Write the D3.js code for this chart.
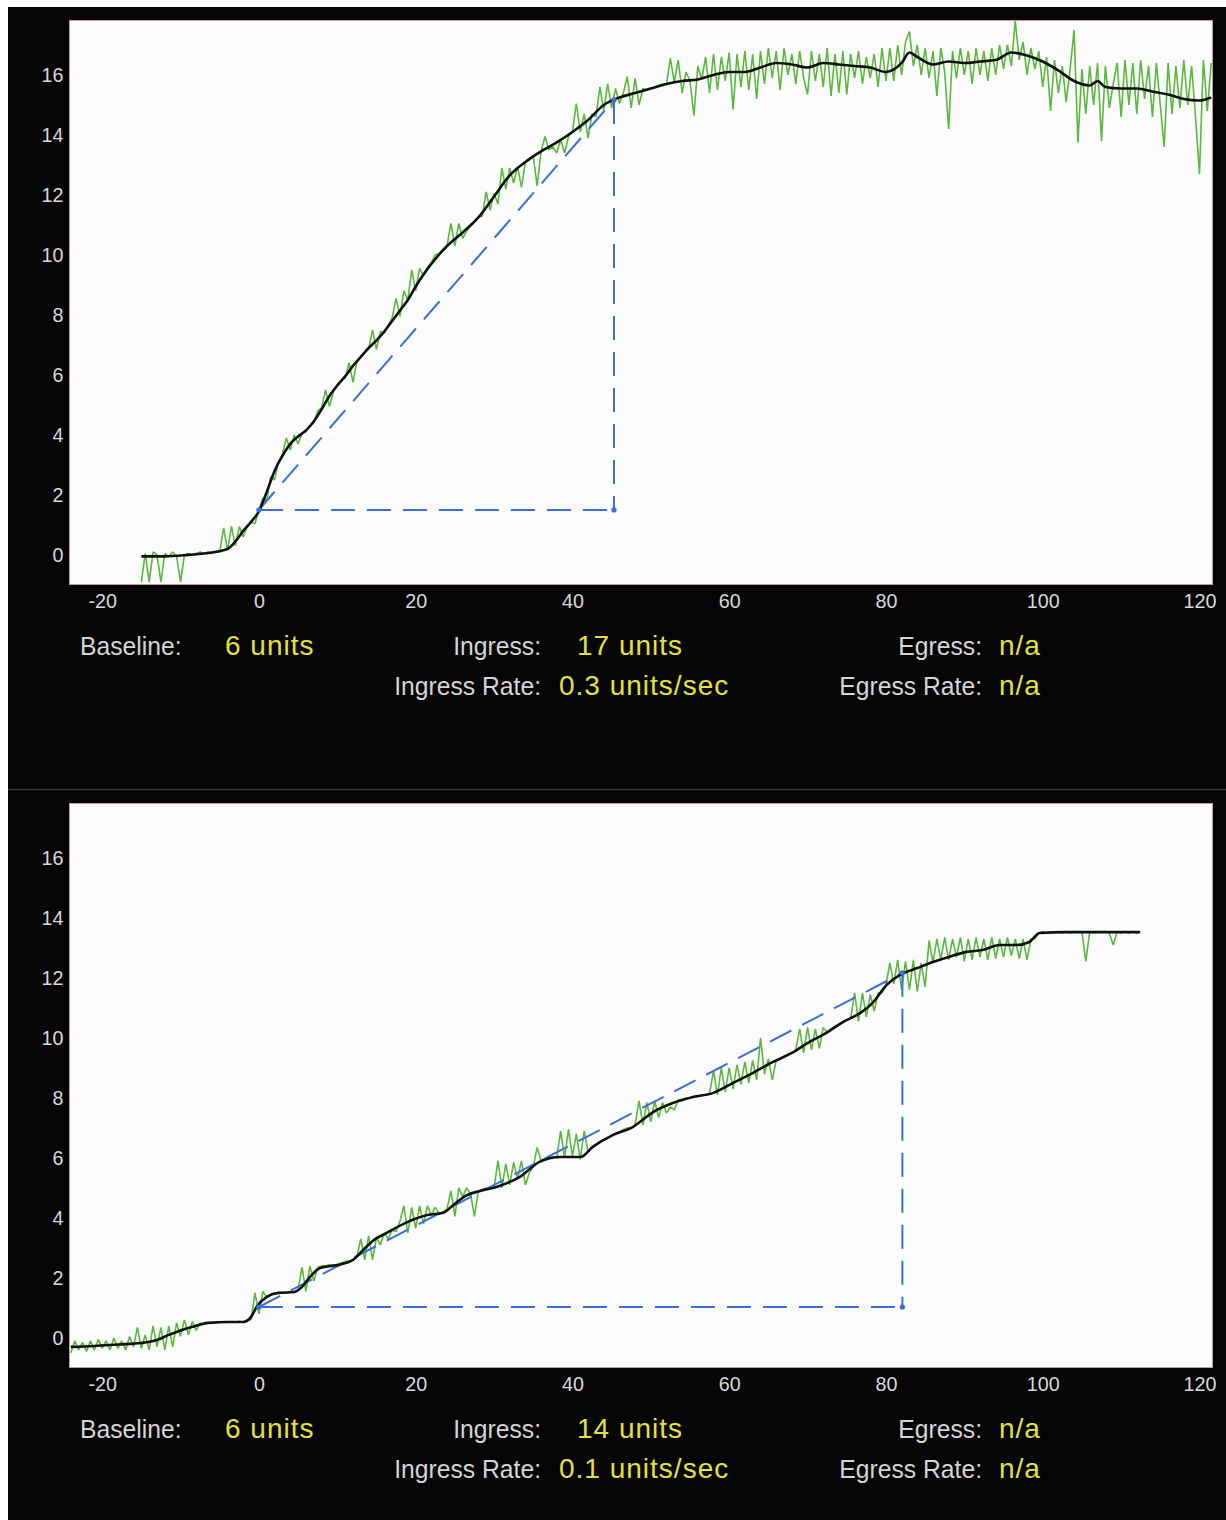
<!DOCTYPE html>
<html>
<head>
<meta charset="utf-8">
<script src="https://cdn.jsdelivr.net/npm/d3@7"></script>
<style>
  body { margin: 0; background: #fff; }
  svg { display: block; }
  text { font-family: "Liberation Sans", Arial, sans-serif; }
</style>
</head>
<body>
<svg id="chart" width="1226" height="1520"></svg>
<script>
// axis ticks
var xTicks = [-20, 0, 20, 40, 60, 80, 100, 120];
var yTicks = [0, 2, 4, 6, 8, 10, 12, 14, 16];
var sampleStep = 0.5;   // seconds between raw samples

var infoLabels = ["Baseline:", "Ingress:", "Ingress Rate:", "Egress:", "Egress Rate:"];
var infoValues1 = ["6 units", "17 units", "0.3 units/sec", "n/a", "n/a"];
var infoValues2 = ["6 units", "14 units", "0.1 units/sec", "n/a", "n/a"];

// ---- top panel ----
var rawStart1 = -15;
var raw1 = [
  -0.9,0.05,-0.9,0.1,0.0,-0.9,0.05,-0.05,0.1,-0.05,-0.9,0.0,0.05,0.0,0.05,0.1,0.05,0.1,0.05,0.12,
  0.1,0.9,0.15,0.95,0.3,0.95,0.6,0.95,1.1,1.05,1.5,1.9,1.8,2.6,2.5,3.1,3.35,3.9,3.5,4.0,
  3.7,4.05,4.1,4.3,4.4,4.8,4.9,5.5,4.95,5.45,5.65,5.8,5.9,6.4,5.75,6.45,6.6,6.75,6.85,7.5,
  6.85,7.45,7.4,7.65,7.9,8.55,7.95,8.8,8.5,9.5,8.8,9.55,9.3,9.6,9.75,10.0,10.05,10.15,10.3,11.05,
  10.3,11.05,10.55,10.8,10.95,11.1,11.25,11.3,12.1,11.5,12.05,11.7,12.9,12.2,12.9,12.4,12.95,12.25,13.1,13.15,
  13.3,12.3,13.45,13.95,13.5,13.6,13.4,13.85,13.4,13.95,14.1,15.05,14.1,14.7,13.9,14.7,14.6,15.6,14.8,15.7,
  14.9,15.55,15.05,15.4,15.95,14.9,15.9,15.0,15.55,15.5,15.55,15.6,15.65,15.7,15.7,16.55,15.75,16.5,15.4,16.1,
  15.8,14.65,16.3,15.85,16.6,15.4,16.7,15.5,16.6,15.8,16.75,14.85,16.7,15.6,16.8,15.5,16.7,15.2,16.8,15.7,
  16.9,15.9,16.8,15.5,16.9,16.0,16.7,15.7,16.8,15.9,15.35,16.8,15.8,16.7,15.6,16.9,15.3,16.7,15.4,16.8,
  15.35,16.7,15.9,16.8,15.7,16.6,15.9,16.7,15.6,16.9,15.8,16.9,15.8,17.0,16.0,17.1,17.45,16.3,17.0,16.0,
  16.9,15.9,16.8,15.3,16.9,16.1,14.2,16.8,15.9,16.9,16.0,16.8,15.7,16.9,16.0,16.8,15.8,16.9,16.0,17.0,
  16.2,17.0,16.3,17.8,16.5,17.1,16.0,16.9,16.2,16.8,15.6,16.6,14.8,16.5,15.4,16.3,15.1,16.2,17.5,13.75,
  16.2,14.7,16.3,15.0,16.4,13.8,16.3,14.9,15.7,16.4,14.6,16.5,15.0,16.4,14.7,16.5,15.2,16.3,14.6,16.4,
  15.0,13.6,16.4,14.7,16.3,14.9,16.5,15.0,16.3,14.6,12.7,16.5,14.8,16.4
];
var smoothT1 = [-15,-12,-9,-6,-4,-3,-2,-1,0,1,2,3,4,5,6,7,8,9,10,11,12,13,14,15,16,17,18,19,20,21,22,
  24,26,28,30,32,34,36,38,40,42,44,46,48,50,52,54,56,58,60,62,64,66,68,70,72,74,76,78,80,
  82,83,84,86,88,90,92,94,96,98,100,102,104,106,107,108,110,112,114,116,118,120,121.5];
var smoothV1 = [-0.05,-0.05,0.0,0.08,0.2,0.45,0.8,1.1,1.45,2.1,2.8,3.3,3.7,3.95,4.15,4.45,4.85,5.3,5.65,5.95,6.3,6.6,6.9,7.15,7.45,7.8,8.15,8.5,8.95,9.35,9.7,
  10.3,10.75,11.25,11.95,12.65,13.1,13.45,13.75,14.1,14.5,15.0,15.25,15.4,15.55,15.7,15.8,15.85,16.0,16.1,16.1,16.25,16.4,16.35,16.25,16.4,16.35,16.3,16.25,16.1,
  16.4,16.75,16.6,16.35,16.45,16.4,16.45,16.5,16.75,16.65,16.45,16.15,15.8,15.65,15.8,15.6,15.55,15.55,15.45,15.35,15.2,15.15,15.25];
var ramp1 = [0, 1.5, 45.3, 15.17];   // start t, start value, end t, end value

// ---- bottom panel ----
var rawStart2 = -24;
var raw2 = [
  -0.5,-0.1,-0.4,-0.15,-0.45,-0.1,-0.4,-0.05,-0.35,-0.1,-0.4,0.0,-0.35,-0.1,-0.4,0.05,-0.3,0.35,-0.35,0.1,
  -0.4,0.4,-0.3,0.35,-0.4,0.4,-0.3,0.5,0.05,0.6,0.1,0.55,0.25,0.5,0.45,0.5,0.5,0.5,0.52,0.53,
  0.53,0.52,0.53,0.55,0.53,0.6,0.6,1.5,0.8,1.55,1.35,1.45,1.5,1.5,1.52,1.5,1.55,1.53,1.6,2.35,
  1.55,2.4,1.9,2.35,2.4,2.4,2.45,2.42,2.45,2.5,2.55,2.55,2.6,2.7,3.3,2.6,3.4,2.6,3.35,3.1,
  3.5,3.3,3.6,3.55,3.9,4.4,3.5,4.35,3.65,4.4,3.8,4.4,4.1,4.35,4.15,4.2,4.3,4.9,4.05,5.0,
  4.7,5.0,4.8,4.05,4.9,4.95,5.0,5.0,5.0,5.9,5.0,5.8,5.1,5.85,5.3,5.9,5.1,5.5,5.7,6.35,
  5.9,6.0,6.03,6.03,6.0,6.9,6.0,6.95,6.05,6.8,5.95,6.9,6.2,6.35,6.45,6.55,6.6,6.65,6.75,6.8,
  6.85,6.95,7.0,7.0,7.1,7.9,7.1,7.85,7.2,7.9,7.35,7.85,7.5,7.7,7.6,7.95,7.95,8.0,8.0,8.05,
  8.05,8.1,8.1,8.15,8.9,8.1,9.0,8.2,9.0,8.3,9.1,8.45,9.2,8.5,9.25,8.6,10.0,8.8,9.3,8.6,
  9.25,9.3,9.4,9.45,9.5,9.6,10.3,9.5,10.35,9.6,10.3,9.65,10.35,10.2,10.3,10.4,10.45,10.5,10.6,10.65,
  11.5,10.55,11.5,10.7,11.45,10.9,11.5,11.5,11.75,12.5,11.8,12.6,11.6,12.55,11.6,12.6,11.55,12.5,11.7,13.25,
  12.5,13.3,12.6,13.35,12.6,13.3,12.7,13.35,12.55,13.3,12.6,13.35,12.7,13.3,12.6,13.35,12.65,13.3,12.7,13.35,
  12.75,13.3,12.65,13.3,12.6,13.3,13.3,13.5,13.55,13.5,13.55,13.52,13.55,13.5,13.55,13.5,13.55,13.52,13.55,12.55,
  13.55,13.5,13.55,13.52,13.55,13.5,13.1,13.55,13.5,13.55,13.5,13.55,13.5,13.55
];
var smoothT2 = [-24,-21,-18,-15,-13,-11.5,-10,-8.5,-6.5,-4,-2,-1,-0.3,1,2.5,4.5,5.5,6.5,7.8,10,
  12,13.3,14.6,16.3,19,21.5,23.5,24.8,26.5,28.2,30.5,33.3,35.8,38.4,41,42.6,45.2,47.7,50.3,52.8,
  55.4,58,60.5,63,65.6,68,70,72.4,74.5,76.7,78.3,80.1,81.8,84,86,88,90.3,92.3,94.5,96.7,98.3,99.6,103,107.3,112.4];
var smoothV2 = [-0.3,-0.27,-0.22,-0.17,-0.07,0.1,0.25,0.37,0.5,0.53,0.53,0.7,1.03,1.37,1.5,1.53,1.7,2.03,2.33,2.43,
  2.6,2.93,3.25,3.5,3.87,4.1,4.17,4.43,4.75,4.9,5.05,5.37,5.87,6.03,6.03,6.37,6.77,7.03,7.53,7.83,
  8.03,8.17,8.5,8.83,9.2,9.5,9.83,10.17,10.53,10.83,11.17,11.77,12.1,12.33,12.53,12.7,12.87,12.93,13.1,13.1,13.2,13.5,13.53,13.53,13.53];
var ramp2 = [0, 1.03, 82.1, 12.17];

var svg = d3.select("#chart");

// black backdrop and the divider between the two captures
svg.append("rect")
  .attr("x", 8).attr("y", 7)
  .attr("width", 1218).attr("height", 1513)
  .attr("fill", "#050505");
svg.append("line")
  .attr("x1", 8).attr("x2", 1226)
  .attr("y1", 789.5).attr("y2", 789.5)
  .attr("stroke", "#383838")
  .attr("stroke-width", 1.5);

function draw_panel(top, id, rawStart, raw, smoothT, smoothV, ramp, values){

  var left = 70, right = 1212, bottom = top + 563;
  var x = d3.scaleLinear().domain([-24.1, 121.6]).range([left, right]);
  var y = d3.scaleLinear().domain([-0.97, 17.8]).range([bottom, top]);

  var g = svg.append("g");

  g.append("clipPath").attr("id", id)
    .append("rect")
    .attr("x", left).attr("y", top)
    .attr("width", right - left).attr("height", bottom - top);

  g.append("rect")
    .attr("x", left - 0.5).attr("y", top - 0.5)
    .attr("width", right - left + 1).attr("height", bottom - top + 1)
    .attr("fill", "#fcfcfe")
    .attr("stroke", "#b8a097")
    .attr("stroke-width", 1);

  var plot = g.append("g").attr("clip-path", "url(#" + id + ")");

  // raw trace
  var rawPts = raw.map(function(v, i){ return [rawStart + i * sampleStep, v]; });
  plot.append("path")
    .datum(rawPts)
    .attr("fill", "none")
    .attr("stroke", "#5ab83a")
    .attr("stroke-width", 1.6)
    .attr("stroke-linejoin", "bevel")
    .attr("d", d3.line()
      .x(function(d){ return x(d[0]); })
      .y(function(d){ return y(d[1]); }));

  // ingress triangle
  var t0 = ramp[0], v0 = ramp[1], t1 = ramp[2], v1 = ramp[3];
  var legs = [[[t0, v0], [t1, v1]], [[t1, v1], [t1, v0]], [[t0, v0], [t1, v0]]];
  plot.selectAll(".leg")
    .data(legs)
    .enter()
    .append("line")
    .attr("x1", function(d){ return x(d[0][0]); })
    .attr("y1", function(d){ return y(d[0][1]); })
    .attr("x2", function(d){ return x(d[1][0]); })
    .attr("y2", function(d){ return y(d[1][1]); })
    .attr("stroke", "#3c6fd6")
    .attr("stroke-width", 2)
    .attr("stroke-dasharray", "24,12");

  // smoothed trace
  var smoothPts = smoothT.map(function(t, i){ return [t, smoothV[i]]; });
  plot.append("path")
    .datum(smoothPts)
    .attr("fill", "none")
    .attr("stroke", "#111")
    .attr("stroke-width", 2.6)
    .attr("d", d3.line()
      .curve(d3.curveMonotoneX)
      .x(function(d){ return x(d[0]); })
      .y(function(d){ return y(d[1]); }));

  plot.selectAll(".corner")
    .data([[t0, v0], [t1, v0], [t1, v1]])
    .enter()
    .append("circle")
    .attr("cx", function(d){ return x(d[0]); })
    .attr("cy", function(d){ return y(d[1]); })
    .attr("r", 2.6)
    .attr("fill", "#3c6fd6");

  // axes (labels only, plain hyphen for negatives)
  var fmt = function(d){ return String(d); };
  g.append("g")
    .attr("transform", "translate(" + left + ",0)")
    .call(d3.axisLeft(y).tickValues(yTicks).tickFormat(fmt).tickSize(0).tickPadding(7));
  g.append("g")
    .attr("transform", "translate(0," + bottom + ")")
    .call(d3.axisBottom(x).tickValues(xTicks).tickFormat(fmt).tickSize(0).tickPadding(9));

  g.selectAll(".domain").remove();
  g.selectAll(".tick text")
    .attr("fill", "#d6d8dc")
    .attr("font-size", 21)
    .attr("font-family", "'Liberation Sans', Arial, sans-serif")
    .attr("transform", "scale(0.94,1)");

  // readout underneath
  var rows = [bottom + 71, bottom + 111];
  var slots = [
    {lx: 80,  ly: rows[0], anchor: "start", vx: 225},
    {lx: 541, ly: rows[0], anchor: "end",   vx: 577},
    {lx: 541, ly: rows[1], anchor: "end",   vx: 559},
    {lx: 982, ly: rows[0], anchor: "end",   vx: 999},
    {lx: 982, ly: rows[1], anchor: "end",   vx: 999}
  ];

  slots.forEach(function(s, i){
    g.append("text")
      .attr("transform", "translate(" + s.lx + "," + s.ly + ") scale(0.95,1)")
      .attr("text-anchor", s.anchor)
      .attr("font-size", 26)
      .attr("fill", "#d4d4d6")
      .text(infoLabels[i]);
    g.append("text")
      .attr("x", s.vx).attr("y", s.ly)
      .attr("font-size", 28)
      .attr("letter-spacing", 1)
      .attr("fill", "#e4e03c")
      .text(values[i]);
  });
}

draw_panel(21, "clipTop", rawStart1, raw1, smoothT1, smoothV1, ramp1, infoValues1);
draw_panel(804, "clipBottom", rawStart2, raw2, smoothT2, smoothV2, ramp2, infoValues2);
</script>
</body>
</html>
